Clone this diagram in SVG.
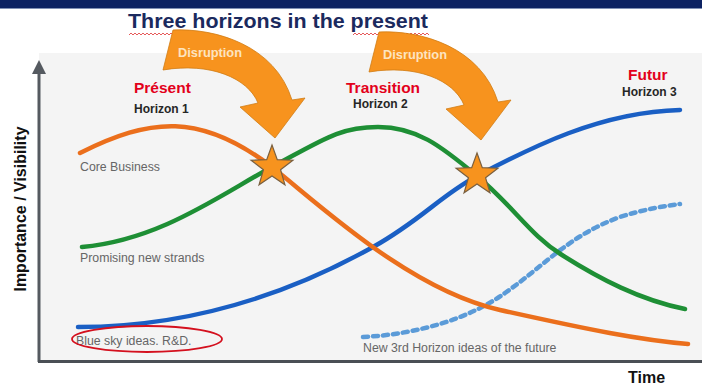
<svg xmlns="http://www.w3.org/2000/svg" width="702" height="387" viewBox="0 0 702 387">
<style>
.curve{fill:none;stroke-width:4.5;stroke-linecap:round}
.lbl{font-family:"Liberation Sans",Arial,sans-serif;font-size:12.3px;fill:#666}
.hz{font-family:"Liberation Sans",Arial,sans-serif;font-weight:bold;font-size:15.5px;fill:#e3001b}
.hn{font-family:"Liberation Sans",Arial,sans-serif;font-weight:bold;font-size:12px;fill:#262626}
.dis{font-family:"Liberation Sans",Arial,sans-serif;font-weight:bold;font-size:12px;fill:#fde4c0}
.arrow{fill:#f7931e;stroke:#d07c14;stroke-width:0.8}
.star{fill:#f7931e;stroke:#7a6040;stroke-width:1.2}
.ax{font-family:"Liberation Sans",Arial,sans-serif;font-weight:bold;font-size:16px;fill:#111}
</style>
<defs>
<polygon id="starShape" points="0,-22 5.29,-7.28 20.92,-6.8 8.56,2.78 12.93,17.8 0,9 -12.93,17.8 -8.56,2.78 -20.92,-6.8 -5.29,-7.28"/>
</defs>
<rect width="702" height="387" fill="#ffffff"/>
<rect x="0" y="0" width="702" height="8" fill="#0c2262"/>
<rect x="0" y="8" width="702" height="1" fill="#8090b4"/>
<rect x="39" y="53" width="663" height="309" fill="#f4f4f4"/>

<g id="title">
<text x="128" y="28" font-family="Liberation Sans, Arial, sans-serif" font-weight="bold" font-size="21" fill="#1b2a5e" textLength="300" lengthAdjust="spacingAndGlyphs">Three horizons in the present</text>
<path d="M129,35 l2,-2 l2,2 l2,-2 l2,2 l2,-2 l2,2 l2,-2 l2,2 l2,-2 l2,2 l2,-2 l2,2 l2,-2 l2,2 l2,-2 l2,2 l2,-2 l2,2 l2,-2 l2,2 l2,-2 l2,2 l2,-2 l2,2 l2,-2 l2,2 l2,-2" fill="none" stroke="#e03030" stroke-width="0.8"/>
<path d="M353,35 l2,-2 l2,2 l2,-2 l2,2 l2,-2 l2,2 l2,-2 l2,2 l2,-2 l2,2 l2,-2 l2,2 l2,-2 l2,2 l2,-2 l2,2 l2,-2 l2,2 l2,-2 l2,2 l2,-2 l2,2 l2,-2 l2,2 l2,-2 l2,2 l2,-2 l2,2 l2,-2 l2,2 l2,-2 l2,2 l2,-2 l2,2 l2,-2 l2,2 l2,-2 l2,2" fill="none" stroke="#e03030" stroke-width="0.8"/>
</g>

<g id="axes">
<line x1="39" y1="72" x2="39" y2="362" stroke="#555a60" stroke-width="3"/>
<polygon points="39,60 32,74 46,74" fill="#555a60"/>
<line x1="38" y1="361.5" x2="702" y2="361.5" stroke="#4a4f55" stroke-width="3"/>
<text class="ax" transform="translate(26,209) rotate(-90)" text-anchor="middle">Importance / Visibility</text>
<text class="ax" x="628" y="383" font-size="15">Time</text>
</g>

<g id="connectors">
<path id="dotted" class="curve" d="M363,337 C420,334 470,318 505,293 C545,265 570,235 620,217 C645,209 665,206 680,204" stroke="#5b9bd8" stroke-width="3" stroke-dasharray="5,5" stroke-linecap="butt"/>
<path id="blue" class="curve" d="M78,327 C160,327 260,310 373,247 C420,221 440,196 477,176 C530,148 600,112 680,110" stroke="#1a5fc4"/>
<path id="orange" class="curve" d="M80,153 C150,118 200,112 272,167 C320,205 410,290 500,310 C590,330 640,340 688,344" stroke="#eb6f1c"/>
<path id="green" class="curve" d="M82,247 C160,240 220,195 272,167 C324,139 340,127 378,127 C416,127 440,145 477,176 C514,207 530,235 562,255 C600,279 640,300 685,309" stroke="#1e8f35"/>
</g>

<g id="node-core"><text class="lbl" x="80" y="171">Core Business</text></g>
<g id="node-promising"><text class="lbl" x="80" y="262">Promising new strands</text></g>
<g id="node-bluesky">
<text class="lbl" x="76" y="345">Blue sky ideas. R&amp;D.</text>
<ellipse cx="147" cy="339" rx="75" ry="13" fill="none" stroke="#d4101e" stroke-width="1.8"/>
</g>
<g id="node-new3rd"><text class="lbl" x="363" y="352">New 3rd Horizon ideas of the future</text></g>

<g id="node-h1">
<text class="hz" x="134" y="93">Présent</text>
<text class="hn" x="134" y="113">Horizon 1</text>
</g>
<g id="node-h2">
<text class="hz" x="346" y="93">Transition</text>
<text class="hn" x="353" y="108">Horizon 2</text>
</g>
<g id="node-h3">
<text class="hz" x="628" y="80">Futur</text>
<text class="hn" x="622" y="96">Horizon 3</text>
</g>

<g id="disruption1">
<path class="arrow" d="M173,30 C215,28 275,45 292,100 L305,98 L275,138 L240,107 L258,103 C248,78 210,62 163,70 Z"/>
<text class="dis" x="178" y="57" textLength="64" lengthAdjust="spacingAndGlyphs">Disruption</text>
</g>
<g id="disruption2">
<path class="arrow" d="M379,32 C421,30 481,47 498,102 L511,100 L481,140 L446,109 L464,105 C454,80 416,64 369,72 Z"/>
<text class="dis" x="383" y="59" textLength="64" lengthAdjust="spacingAndGlyphs">Disruption</text>
</g>

<g id="star1"><use href="#starShape" class="star" transform="translate(272,167)"/></g>
<g id="star2"><use href="#starShape" class="star" transform="translate(477,175)"/></g>
</svg>
